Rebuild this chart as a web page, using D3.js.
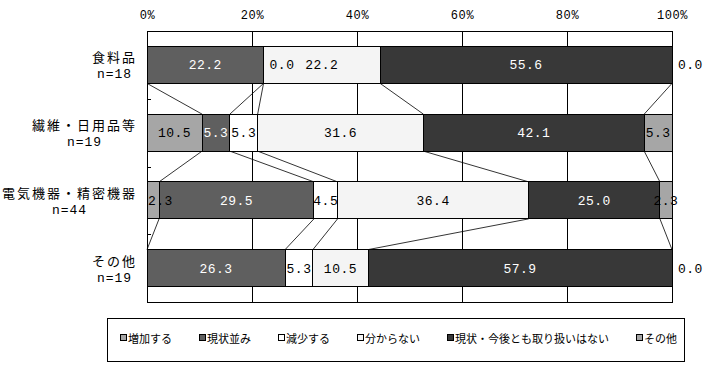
<!DOCTYPE html>
<html>
<head>
<meta charset="utf-8">
<script src="https://cdn.jsdelivr.net/npm/d3@7"></script>
<style>
  body { margin: 0; background: #fff; }
  svg { display: block; }
  .num { font-family: "Liberation Mono", "DejaVu Sans Mono", monospace; }
  .jp { font-family: "Noto Sans CJK JP", sans-serif; }
</style>
</head>
<body>
<script>
// categories (rows) and sample sizes
var categories = ["食料品", "繊維・日用品等", "電気機器・精密機器", "その他"];
var counts = [18, 19, 44, 19];

// series, in stacking order
var seriesNames = ["増加する", "現状並み", "減少する", "分からない", "現状・今後とも取り扱いはない", "その他"];
var zouka   = [0.0, 10.5, 2.3, 0.0];
var genjou  = [22.2, 5.3, 29.5, 26.3];
var genshou = [0.0, 5.3, 4.5, 5.3];
var wakaran = [22.2, 31.6, 36.4, 10.5];
var nashi   = [55.6, 42.1, 25.0, 57.9];
var sonota  = [0.0, 5.3, 2.3, 0.0];
var seriesValues = [zouka, genjou, genshou, wakaran, nashi, sonota];

var tickLabels = [0, 20, 40, 60, 80, 100];

var colors = ["#a6a6a6", "#5f5f5f", "#ffffff", "#f4f4f4", "#383838", "#a6a6a6"];
var textColors = ["#000", "#fff", "#000", "#000", "#fff", "#000"];

var W = 706, H = 366;
// plot area (note: "top" is a reserved window global, so use pl/pr/pt/pb)
var pl = 147, pr = 672, pt = 31, pb = 302;

var svg = d3.select("body").append("svg")
  .attr("width", W)
  .attr("height", H);

// build table for d3.stack
var rows = categories.map(function(c, i) {
  var r = { name: c };
  seriesNames.forEach(function(s, j) { r[s] = seriesValues[j][i]; });
  return r;
});

var stacked = d3.stack()
  .keys(seriesNames)
  .offset(d3.stackOffsetExpand)(rows);

var x = d3.scaleLinear().domain([0, 1]).range([pl, pr]);
var y = d3.scaleBand()
  .domain(categories)
  .range([pt, pb])
  .paddingInner(0.454)
  .paddingOuter(0.227);

// gridlines
svg.append("g")
  .attr("transform", "translate(0," + pt + ")")
  .call(d3.axisTop(x).tickValues([0.2, 0.4, 0.6, 0.8]).tickSize(-(pb - pt)).tickFormat(""))
  .call(function(g) {
    g.select(".domain").remove();
    g.selectAll("line").attr("stroke", "#000").attr("shape-rendering", "crispEdges");
  });

// top tick labels
svg.append("g")
  .attr("transform", "translate(0," + pt + ")")
  .call(d3.axisTop(x).tickValues(tickLabels.map(function(d) { return d / 100; }))
    .tickSize(0).tickPadding(12)
    .tickFormat(function(d) { return Math.round(d * 100) + "%"; }))
  .call(function(g) {
    g.select(".domain").remove();
    g.selectAll("text")
      .attr("class", "num")
      .style("font-size", "12px")
      .style("letter-spacing", "0.6px")
      .attr("fill", "#000");
  });

// connector lines between bars
for (var j = 0; j < seriesNames.length - 1; j++) {
  for (var i = 0; i < categories.length - 1; i++) {
    var a = stacked[j][i][1], b = stacked[j][i + 1][1];
    svg.append("line")
      .attr("x1", x(a)).attr("y1", y(categories[i]) + y.bandwidth())
      .attr("x2", x(b)).attr("y2", y(categories[i + 1]))
      .attr("stroke", "#000")
      .attr("stroke-width", 0.8);
  }
}

// bars
var layers = svg.append("g").selectAll("g")
  .data(stacked)
  .enter().append("g")
  .attr("fill", function(d, i) { return colors[i]; });

layers.selectAll("rect")
  .data(function(d) { return d; })
  .enter().append("rect")
  .attr("x", function(d) { return x(d[0]); })
  .attr("y", function(d) { return y(d.data.name); })
  .attr("width", function(d) { return x(d[1]) - x(d[0]); })
  .attr("height", y.bandwidth())
  .attr("stroke", "#000")
  .attr("stroke-width", 1)
  .attr("shape-rendering", "crispEdges");

// plot border
svg.append("rect")
  .attr("x", pl).attr("y", pt)
  .attr("width", pr - pl).attr("height", pb - pt)
  .attr("fill", "none").attr("stroke", "#000")
  .attr("shape-rendering", "crispEdges");

// left ticks at band boundaries
for (var k = 1; k < categories.length; k++) {
  var ty = Math.round(pt + k * y.step()) + 0.5;
  svg.append("line")
    .attr("x1", pl).attr("x2", pl + 4)
    .attr("y1", ty).attr("y2", ty)
    .attr("stroke", "#000");
}

// value labels
stacked.forEach(function(layer, j) {
  layer.forEach(function(d, i) {
    var v = seriesValues[j][i];
    if (v === 0 && j === 0) return;
    var cy = y(d.data.name) + y.bandwidth() / 2;
    var t = svg.append("text")
      .attr("class", "num")
      .style("font-size", "13px")
      .style("letter-spacing", "0.5px")
      .attr("y", cy + 1)
      .attr("dominant-baseline", "central")
      .text(v.toFixed(1));
    if (v === 0) {
      t.attr("x", x(d[1]) + 6).attr("fill", "#000");
    } else {
      var cx = (x(d[0]) + x(d[1])) / 2;
      t.attr("x", cx).attr("text-anchor", "middle").attr("fill", textColors[j]);
      var w = t.node().getComputedTextLength();
      if (cx - w / 2 < pl + 1) {
        t.attr("text-anchor", "start").attr("x", pl + 1);
      }
    }
  });
});

// category labels (two lines, centred on each other, right edge at 137)
categories.forEach(function(c, i) {
  var cy = y(c) + y.bandwidth() / 2;
  var g = svg.append("g");
  var t1 = g.append("text")
    .attr("class", "jp")
    .style("font-size", "13px")
    .style("letter-spacing", "2px")
    .attr("y", cy - 8)
    .attr("dominant-baseline", "central")
    .attr("text-anchor", "middle")
    .text(c);
  var t2 = g.append("text")
    .attr("class", "num")
    .style("font-size", "13px")
    .style("letter-spacing", "1px")
    .attr("y", cy + 10)
    .attr("dominant-baseline", "central")
    .attr("text-anchor", "middle")
    .text("n=" + counts[i]);
  var mw = Math.max(t1.node().getComputedTextLength(), t2.node().getComputedTextLength());
  var mx = 137 - mw / 2;
  t1.attr("x", mx);
  t2.attr("x", mx);
});

// legend
svg.append("rect")
  .attr("x", 107.5).attr("y", 318.5)
  .attr("width", 577).attr("height", 43)
  .attr("fill", "none").attr("stroke", "#000");

var lx = 120, ly = 338;
seriesNames.forEach(function(s, j) {
  svg.append("rect")
    .attr("x", lx + 0.5).attr("y", ly - 3.5)
    .attr("width", 6).attr("height", 6)
    .attr("fill", colors[j]).attr("stroke", "#000");
  var t = svg.append("text")
    .attr("class", "jp")
    .style("font-size", "11px")
    .attr("x", lx + 8).attr("y", ly)
    .attr("dominant-baseline", "central")
    .text(s);
  lx = lx + 8 + t.node().getComputedTextLength() + 27;
});
</script>
</body>
</html>
